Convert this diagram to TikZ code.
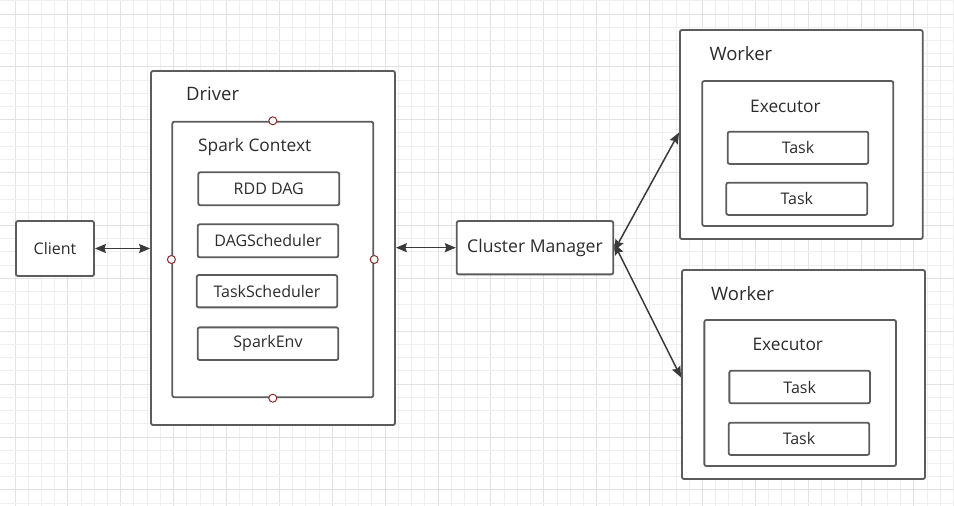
\documentclass[tikz,border=0pt]{standalone}
\usepackage{fontspec}
\setmainfont{Open Sans}
\usetikzlibrary{arrows.meta}
\definecolor{boxgray}{HTML}{5C5C5C}
\definecolor{txtgray}{HTML}{2C2C2C}
\definecolor{arrgray}{HTML}{3A3A3A}
\definecolor{gridminor}{HTML}{EFEFEF}
\definecolor{gridmajor}{HTML}{E2E2E2}
\definecolor{portred}{HTML}{8E2A2A}
\tikzset{
  box/.style={draw=boxgray, line width=1.8pt, rounded corners=2pt, fill=white, inner sep=0pt,
    text=txtgray, font=\fontsize{16}{18}\selectfont},
  bigbox/.style={box, font=\fontsize{17.6}{19}\selectfont},
  title/.style={anchor=west, inner sep=0pt, text=txtgray, font=\fontsize{18.5}{20}\selectfont},
  subtitle/.style={anchor=west, inner sep=0pt, text=txtgray, font=\fontsize{17.3}{19}\selectfont},
  port/.style={circle, draw=portred, line width=1pt, fill=white, minimum size=8pt, inner sep=0pt},
  link/.style={draw=arrgray, line width=1.5pt,
    {Stealth[length=11pt,width=9pt,inset=1.5pt]}-{Stealth[length=11pt,width=9pt,inset=1.5pt]}}
}
\begin{document}
\begin{tikzpicture}[x=1pt,y=-1pt]
\useasboundingbox (0,0) rectangle (954,506);
\fill[white] (0,0) rectangle (954,506);
% grid
\foreach \i in {0,...,71} {
  \pgfmathsetmacro{\gx}{15+13.22*\i}
  \pgfmathtruncatemacro{\m}{mod(\i,4)}
  \ifnum\m=0 \draw[gridmajor, line width=1pt] (\gx,0) -- (\gx,506);
  \else \draw[gridminor, line width=1pt] (\gx,0) -- (\gx,506); \fi
}
\foreach \i in {-1,0,...,37} {
  \pgfmathsetmacro{\gy}{14+13.22*\i}
  \pgfmathtruncatemacro{\m}{mod(\i+4,4)}
  \ifnum\m=0 \draw[gridmajor, line width=1pt] (0,\gy) -- (954,\gy);
  \else \draw[gridminor, line width=1pt] (0,\gy) -- (954,\gy); \fi
}
% Client
\node[box, minimum width=78pt, minimum height=55pt] (client) at (55,248.5) {Client};
% Driver
\node[box, minimum width=244pt, minimum height=354pt] (driver) at (273,248) {};
\node[title] (driverlbl) at (186,94) {Driver};
\node[box, minimum width=201pt, minimum height=275.6pt] (sc) at (272.8,259.5) {};
\node[subtitle] (sclbl) at (198,147) {Spark Context};
\node[box, minimum width=141pt, minimum height=33pt] (rdd) at (268.8,188.8) {RDD DAG};
\node[box, minimum width=140.6pt, minimum height=33pt] (dag) at (268,240.8) {DAGScheduler};
\node[box, minimum width=140.6pt, minimum height=32.3pt] (ts) at (267,291.2) {TaskScheduler};
\node[box, minimum width=140.6pt, minimum height=32.7pt] (env) at (268,343.7) {SparkEnv};
\node[port] (pn) at (sc.north) {};
\node[port] (ps) at (sc.south) {};
\node[port] (pw) at (sc.west) {};
\node[port] (pe) at (sc.east) {};
% Cluster manager
\node[bigbox, minimum width=156.6pt, minimum height=53.3pt] (cm) at (535,247.7) {Cluster Manager};
% Worker 1
\node[box, minimum width=242.7pt, minimum height=209pt] (w1) at (801.3,134.5) {};
\node[title] (w1lbl) at (709.3,53.3) {Worker};
\node[box, minimum width=191pt, minimum height=145pt] (e1) at (797.8,153.5) {};
\node[subtitle] (e1lbl) at (750,106) {Executor};
\node[box, minimum width=140.6pt, minimum height=32.3pt] (t1a) at (798,147.8) {Task};
\node[box, minimum width=141pt, minimum height=32.3pt] (t1b) at (796.8,198.8) {Task};
% Worker 2
\node[box, minimum width=243pt, minimum height=209pt] (w2) at (803.5,374.5) {};
\node[title] (w2lbl) at (711,293.3) {Worker};
\node[box, minimum width=191.7pt, minimum height=146pt] (e2) at (800.2,393) {};
\node[subtitle] (e2lbl) at (752.3,344) {Executor};
\node[box, minimum width=140.7pt, minimum height=32.6pt] (t2a) at (799.7,387) {Task};
\node[box, minimum width=140.6pt, minimum height=32.3pt] (t2b) at (799,438.8) {Task};
% connectors
\draw[link] (client.east) -- (client.east -| driver.west);
\draw[link] (driver.east |- cm.west) -- (cm.west);
\draw[link] ([yshift=-3pt]cm.east) -- ([yshift=2pt]w1.west);
\draw[link] ([yshift=4pt]cm.east) -- ([yshift=-3pt]w2.west);
\end{tikzpicture}
\end{document}
